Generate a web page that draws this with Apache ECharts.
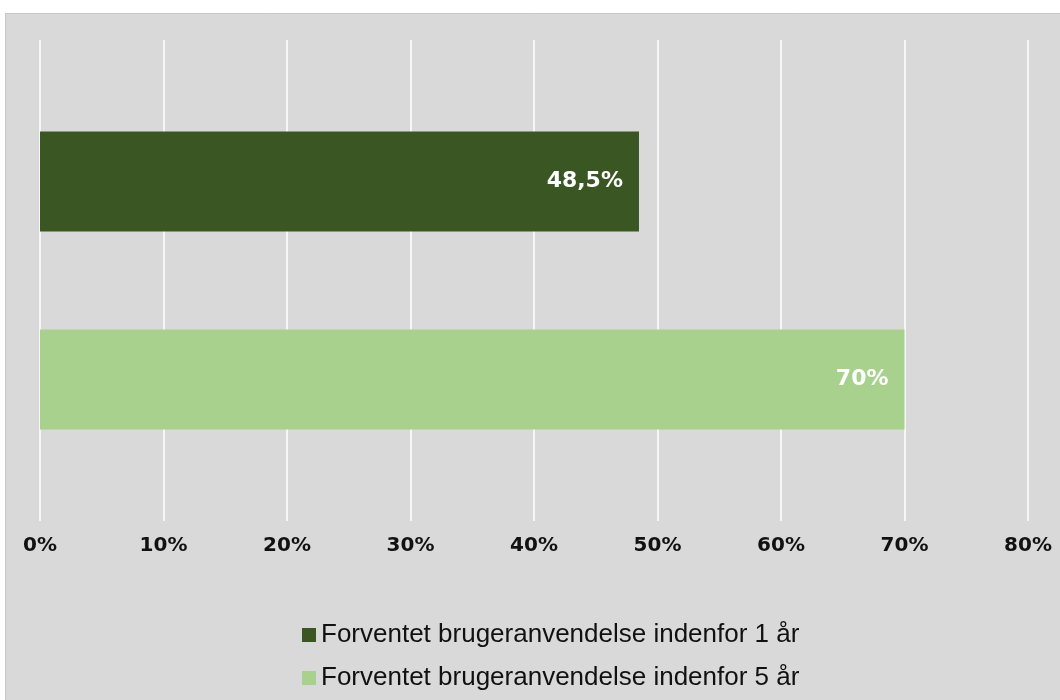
<!DOCTYPE html>
<html lang="da">
<head>
  <meta charset="UTF-8">
  <title>Forventet brugeranvendelse</title>
  <style>
    html, body { margin: 0; padding: 0; background: #fff; }
    #chart { width: 1060px; height: 700px; }
  </style>
  <script src="https://cdn.jsdelivr.net/npm/echarts@6/dist/echarts.min.js"></script>
</head>
<body>
<div id="chart"></div>
<script>
  // data
  var categories = [''];
  var seriesNames = [
    'Forventet brugeranvendelse indenfor 1 år',
    'Forventet brugeranvendelse indenfor 5 år'
  ];
  var values1 = [48.5];
  var values5 = [70];
  var seriesColors = ['#3a5623', '#a9d18e'];

  function pct(v) {
    return String(v).replace('.', ',') + '%';
  }

  var myChart = echarts.init(document.getElementById('chart'));

  var barLabel = {
    show: true,
    position: 'insideRight',
    distance: 16,
    color: '#fff',
    fontFamily: 'DejaVu Sans',
    fontWeight: 'bold',
    fontSize: 22,
    formatter: function (p) { return pct(p.value); }
  };

  var option = {
    backgroundColor: '#d9d9d9',
    animation: false,
    // white strip above / left of the grey chart area
    graphic: [
      { type: 'rect', left: 0, top: 0, shape: { width: 1060, height: 13 }, style: { fill: '#fff' } },
      { type: 'rect', left: 0, top: 0, shape: { width: 5, height: 700 }, style: { fill: '#fff' } },
      { type: 'line', shape: { x1: 5, y1: 13.5, x2: 1060, y2: 13.5 }, style: { stroke: '#c8c8c8', lineWidth: 1 } },
      { type: 'line', shape: { x1: 5.5, y1: 13, x2: 5.5, y2: 700 }, style: { stroke: '#c8c8c8', lineWidth: 1 } }
    ],
    grid: {
      left: 40,
      right: 32,
      top: 40,
      bottom: 179
    },
    legend: {
      orient: 'vertical',
      left: 297,
      top: 617,
      itemWidth: 14,
      itemHeight: 14,
      itemGap: 17,
      icon: 'rect',
      textStyle: {
        fontFamily: 'Liberation Sans',
        fontSize: 26,
        color: '#111'
      },
      data: seriesNames
    },
    xAxis: {
      type: 'value',
      min: 0,
      max: 80,
      interval: 10,
      axisLine: { show: false },
      axisTick: { show: false },
      splitLine: { lineStyle: { color: '#ffffff', width: 1.5 } },
      axisLabel: {
        margin: 15,
        formatter: '{value}%',
        fontFamily: 'DejaVu Sans',
        fontWeight: 'bold',
        fontSize: 20,
        color: '#111'
      }
    },
    yAxis: {
      type: 'category',
      inverse: true,
      data: categories,
      axisLine: { show: false },
      axisTick: { show: false },
      axisLabel: { show: false }
    },
    series: [
      {
        name: seriesNames[0],
        type: 'bar',
        barWidth: 100,
        barGap: '98%',
        itemStyle: { color: seriesColors[0] },
        label: barLabel,
        data: values1
      },
      {
        name: seriesNames[1],
        type: 'bar',
        barWidth: 100,
        barGap: '98%',
        itemStyle: { color: seriesColors[1] },
        label: barLabel,
        data: values5
      }
    ]
  };

  myChart.setOption(option);
</script>
</body>
</html>
